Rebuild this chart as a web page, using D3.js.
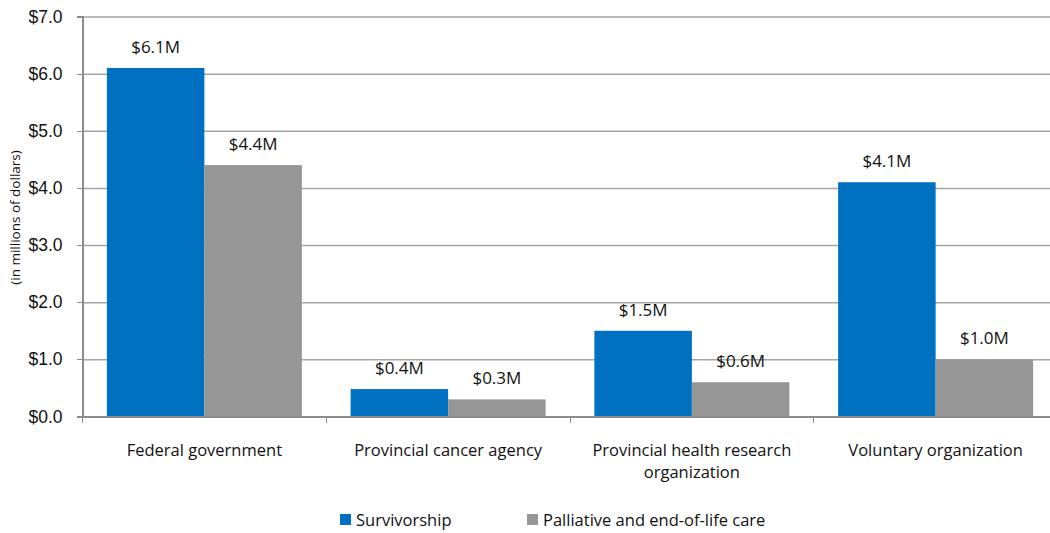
<!DOCTYPE html>
<meta charset="utf-8">
<style>
body { margin: 0; background: #fff; }
svg { display: block; font-family: "Open Sans", Lato, sans-serif; }
.axis text { font-size: 17.5px; fill: #111; }
.axis .cat { font-size: 16.5px; }
.axis line, .axis path { stroke: #8c8c8c; shape-rendering: crispEdges; }
.grid line { stroke: #a6a6a6; stroke-width: 1.5px; }
.grid path { display: none; }
.val { font-size: 17px; fill: #111; text-anchor: middle; }
.legend text { font-size: 16.5px; fill: #111; }
</style>
<body>
<div id="chart"></div>
<script src="https://cdn.jsdelivr.net/npm/d3@7"></script>
<script>
var categories = ["Federal government", "Provincial cancer agency", "Provincial health research organization", "Voluntary organization"];
var categoryLines = [["Federal government"], ["Provincial cancer agency"], ["Provincial health research", "organization"], ["Voluntary organization"]];
var seriesNames = ["Survivorship", "Palliative and end-of-life care"];
var survivorship = [6.1, 0.48, 1.5, 4.1];
var palliative = [4.4, 0.3, 0.6, 1.0];
var survivorshipLabels = ["$6.1M", "$0.4M", "$1.5M", "$4.1M"];
var palliativeLabels = ["$4.4M", "$0.3M", "$0.6M", "$1.0M"];
var yTicks = [0, 1, 2, 3, 4, 5, 6, 7];
var colors = ["#0070C0", "#969696"];

var W = 1050, H = 533;
var margin = {top: 16.5, left: 82.5, bottom: 116.5};
var plotRight = 1057.5;
var height = H - margin.top - margin.bottom;

var svg = d3.select("#chart").append("svg")
  .attr("width", W).attr("height", H);

var x = d3.scaleBand().domain(categories).range([margin.left, plotRight]);
var inner = d3.scaleBand().domain(seriesNames).range([0, x.bandwidth()]).paddingOuter(0.25).paddingInner(0);
var y = d3.scaleLinear().domain([0, 7]).range([margin.top + height, margin.top]);

// gridlines
svg.append("g").attr("class", "grid")
  .attr("transform", "translate(" + margin.left + ",0)")
  .call(d3.axisLeft(y).tickValues(yTicks.slice(1)).tickSize(-(plotRight - margin.left)).tickFormat(""));

var series = [
  {name: seriesNames[0], values: survivorship, labels: survivorshipLabels, color: colors[0]},
  {name: seriesNames[1], values: palliative, labels: palliativeLabels, color: colors[1]}
];

series.forEach(function(s) {
  var g = svg.append("g");
  g.selectAll("rect").data(s.values).enter().append("rect")
    .attr("x", function(d, i) { return x(categories[i]) + inner(s.name); })
    .attr("y", function(d) { return y(d); })
    .attr("width", inner.bandwidth())
    .attr("height", function(d) { return y(0) - y(d); })
    .attr("fill", s.color);
  g.selectAll("text").data(s.values).enter().append("text")
    .attr("class", "val")
    .attr("x", function(d, i) { return x(categories[i]) + inner(s.name) + inner.bandwidth() / 2; })
    .attr("y", function(d) { return y(d) - 15; })
    .text(function(d, i) { return s.labels[i]; });
});

// y axis
var yAxis = svg.append("g").attr("class", "axis")
  .attr("transform", "translate(" + margin.left + ",0)")
  .call(d3.axisLeft(y).tickValues(yTicks).tickSizeOuter(0).tickSize(6).tickPadding(14)
    .tickFormat(function(d) { return "$" + d.toFixed(1); }));
yAxis.select(".domain").attr("stroke-width", 1.5);

// x axis
var xAxis = svg.append("g").attr("class", "axis")
  .attr("transform", "translate(0," + y(0) + ")")
  .call(d3.axisBottom(x).tickSizeOuter(0).tickFormat(""));
xAxis.select(".domain").attr("stroke-width", 1.5);
xAxis.selectAll(".tick line").attr("transform", function() {
  return "translate(" + (-x.bandwidth() / 2) + ",0)";
}).attr("y2", 6);

var catG = svg.append("g").attr("class", "axis");
categoryLines.forEach(function(lines, i) {
  var t = catG.append("text")
    .attr("class", "cat")
    .attr("x", x(categories[i]) + x.bandwidth() / 2)
    .attr("y", y(0) + 39.5)
    .attr("text-anchor", "middle");
  lines.forEach(function(l, j) {
    t.append("tspan").attr("x", x(categories[i]) + x.bandwidth() / 2)
      .attr("dy", j === 0 ? 0 : 22).text(l);
  });
});

svg.append("text")
  .attr("transform", "translate(20," + (margin.top + height / 2 + 1) + ") rotate(-90)")
  .attr("text-anchor", "middle")
  .style("font-size", "13.5px")
  .style("fill", "#111")
  .text("(in millions of dollars)");

// legend
var legendX = [340, 527];
var legend = svg.append("g").attr("class", "legend");
series.forEach(function(s, i) {
  legend.append("rect").attr("x", legendX[i]).attr("y", 514)
    .attr("width", 11).attr("height", 11).attr("fill", s.color);
  legend.append("text").attr("x", legendX[i] + 16).attr("y", 526).text(s.name);
});
</script>
